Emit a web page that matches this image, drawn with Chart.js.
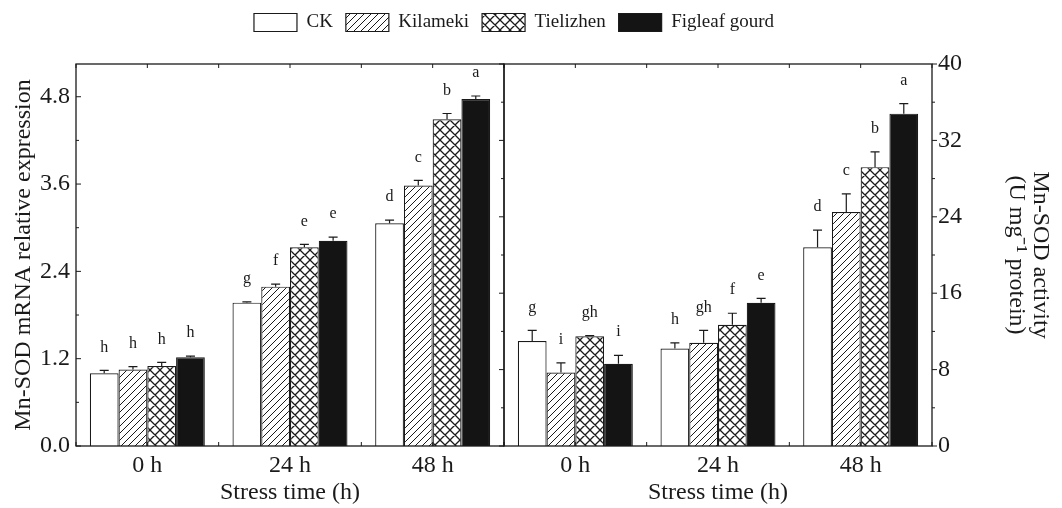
<!DOCTYPE html>
<html>
<head>
<meta charset="utf-8">
<script src="https://cdn.jsdelivr.net/npm/chart.js@4.4.1/dist/chart.umd.min.js"></script>
<style>
html, body { margin: 0; padding: 0; background: #fff; }
#wrap { position: relative; width: 1062px; height: 508px; }
canvas { position: absolute; left: 0; top: 0; }
</style>
</head>
<body>
<div id="wrap">
  <canvas id="exprChart" width="1028" height="508"></canvas>
  <canvas id="actChart" width="1062" height="508"></canvas>
</div>
<script>
const times = ['0 h', '24 h', '48 h'];
const cultivars = ['CK', 'Kilameki', 'Tielizhen', 'Figleaf gourd'];

// Mn-SOD mRNA relative expression (left panel)
const exprCK = [1.00, 1.97, 3.06];
const exprKil = [1.05, 2.19, 3.58];
const exprTie = [1.10, 2.73, 4.49];
const exprFig = [1.22, 2.82, 4.77];
const exprErrCK = [0.04, 0.01, 0.045];
const exprErrKil = [0.04, 0.035, 0.07];
const exprErrTie = [0.05, 0.04, 0.08];
const exprErrFig = [0.015, 0.05, 0.04];
const exprLetCK = ['h', 'g', 'd'];
const exprLetKil = ['h', 'f', 'c'];
const exprLetTie = ['h', 'e', 'b'];
const exprLetFig = ['h', 'e', 'a'];

// Mn-SOD activity, U mg-1 protein (right panel)
const actCK = [11.0, 10.2, 20.8];
const actKil = [7.7, 10.8, 24.5];
const actTie = [11.5, 12.7, 29.2];
const actFig = [8.6, 15.0, 34.8];
const actErrCK = [1.1, 0.6, 1.8];
const actErrKil = [1.0, 1.3, 1.9];
const actErrTie = [0.05, 1.2, 1.6];
const actErrFig = [0.9, 0.45, 1.05];
const actLetCK = ['g', 'h', 'd'];
const actLetKil = ['i', 'gh', 'c'];
const actLetTie = ['gh', 'f', 'b'];
const actLetFig = ['i', 'e', 'a'];

const exprTicks = [0, 1.2, 2.4, 3.6, 4.8];
const actTicks = [0, 8, 16, 24, 32, 40];

const ink = '#1a1a1a';
const serif = "'Liberation Serif', 'Times New Roman', serif";
Chart.defaults.font.family = serif;
Chart.defaults.color = ink;

function hatch(size, cross, lw) {
    const c = document.createElement('canvas');
    c.width = c.height = size;
    const g = c.getContext('2d');
    g.fillStyle = '#fff';
    g.fillRect(0, 0, size, size);
    g.strokeStyle = ink;
    g.lineWidth = lw;
    g.beginPath();
    for (const o of [-size, 0, size]) {
        g.moveTo(o, size); g.lineTo(o + size, 0);
        if (cross) { g.moveTo(o, 0); g.lineTo(o + size, size); }
    }
    g.stroke();
    return g.createPattern(c, 'repeat');
}

const fills = ['#ffffff', hatch(7, false, 1), hatch(10, true, 1.3), '#141414'];

function makeSets(values, errors, letters) {
    return values.map((v, i) => ({
        label: cultivars[i],
        data: v,
        errors: errors[i],
        letters: letters[i],
        backgroundColor: fills[i],
        borderColor: ink,
        borderWidth: 1.2,
        xAxisID: 'x',
        yAxisID: 'y'
    }));
}

// error bars, significance letters, frame and tick marks
const panelMarks = {
    id: 'panelMarks',
    afterDatasetsDraw(chart, args, opts) {
        const { ctx, chartArea: a } = chart;
        const ys = chart.scales.y;
        const xs = chart.scales.x;
        ctx.save();
        ctx.strokeStyle = ink;
        ctx.fillStyle = ink;
        ctx.lineWidth = 1.2;
        ctx.font = '16px ' + serif;
        ctx.textAlign = 'center';
        ctx.textBaseline = 'middle';
        chart.data.datasets.forEach((ds, i) => {
            chart.getDatasetMeta(i).data.forEach((bar, j) => {
                const top = ys.getPixelForValue(ds.data[j] + ds.errors[j]);
                ctx.beginPath();
                ctx.moveTo(bar.x, bar.y);
                ctx.lineTo(bar.x, top);
                ctx.moveTo(bar.x - 4.5, top);
                ctx.lineTo(bar.x + 4.5, top);
                ctx.stroke();
                ctx.fillText(ds.letters[j], bar.x, top - 23);
            });
        });

        ctx.lineWidth = 1.3;
        ctx.strokeRect(a.left, a.top, a.right - a.left, a.bottom - a.top);

        ctx.lineWidth = 1;
        ctx.beginPath();
        for (let k = -0.5; k <= times.length - 0.5; k += 0.5) {
            const px = xs.getPixelForValue(k);
            ctx.moveTo(px, a.top); ctx.lineTo(px, a.top + 4);
            ctx.moveTo(px, a.bottom); ctx.lineTo(px, a.bottom - 4);
        }
        for (let v = 0; v <= opts.max + 1e-9; v += opts.minor) {
            const py = ys.getPixelForValue(v);
            const major = Math.abs(v / opts.major - Math.round(v / opts.major)) < 1e-6;
            const len = major ? 5 : 3;
            opts.sides.forEach(s => {
                const x0 = a[s.edge];
                ctx.moveTo(x0, py);
                ctx.lineTo(x0 + s.dir * len, py);
            });
        }
        ctx.stroke();
        ctx.restore();
    }
};

const xAxis = {
    type: 'category',
    position: 'bottom',
    grid: { display: false, drawTicks: false },
    border: { display: false },
    ticks: { font: { size: 24 }, padding: 5, color: ink },
    title: { display: true, text: 'Stress time (h)', color: ink, font: { size: 24, lineHeight: 1 }, padding: { top: 0, bottom: 3 } },
    afterFit: s => { s.height = 62; }
};

function blank(type, position, fit) {
    return {
        type: type,
        position: position,
        grid: { display: false, drawTicks: false },
        border: { display: false },
        ticks: { display: false },
        afterFit: fit
    };
}

// Left panel: relative expression, with the legend
new Chart(document.getElementById('exprChart'), {
    type: 'bar',
    data: {
        labels: times,
        datasets: makeSets(
            [exprCK, exprKil, exprTie, exprFig],
            [exprErrCK, exprErrKil, exprErrTie, exprErrFig],
            [exprLetCK, exprLetKil, exprLetTie, exprLetFig])
    },
    options: {
        responsive: false,
        animation: false,
        datasets: { bar: { categoryPercentage: 0.806, barPercentage: 1 } },
        plugins: {
            legend: {
                position: 'top',
                labels: { boxWidth: 43, boxHeight: 18, padding: 13, color: ink, font: { size: 19 } }
            },
            tooltip: { enabled: false },
            panelMarks: { max: 4.8, major: 1.2, minor: 0.6, sides: [{ edge: 'left', dir: 1 }] }
        },
        scales: {
            x: xAxis,
            xTop: blank('category', 'top', s => { s.height = Math.max(0, 64 - s.chart.legend.height); }),
            y: {
                type: 'linear',
                position: 'left',
                min: 0,
                max: 5.25,
                grid: { display: false, drawTicks: false },
                border: { display: false },
                afterBuildTicks: s => { s.ticks = exprTicks.map(v => ({ value: v })); },
                ticks: { padding: 6, color: ink, font: { size: 24 }, callback: v => v.toFixed(1) },
                title: { display: true, text: 'Mn-SOD mRNA relative expression', color: ink, font: { size: 24, lineHeight: 1 }, padding: { top: 12, bottom: 0 } },
                afterFit: s => { s.width = 76; }
            },
            yPad: blank('linear', 'right', s => { s.width = 1028 - 504; })
        }
    },
    plugins: [panelMarks]
});

// Right panel: enzyme activity
new Chart(document.getElementById('actChart'), {
    type: 'bar',
    data: {
        labels: times,
        datasets: makeSets(
            [actCK, actKil, actTie, actFig],
            [actErrCK, actErrKil, actErrTie, actErrFig],
            [actLetCK, actLetKil, actLetTie, actLetFig])
    },
    options: {
        responsive: false,
        animation: false,
        datasets: { bar: { categoryPercentage: 0.806, barPercentage: 1 } },
        plugins: {
            legend: { display: false },
            tooltip: { enabled: false },
            panelMarks: { max: 40, major: 8, minor: 4, sides: [{ edge: 'left', dir: -1 }, { edge: 'right', dir: 1 }] }
        },
        scales: {
            x: xAxis,
            xTop: blank('category', 'top', s => { s.height = 64; }),
            yPad: blank('linear', 'left', s => { s.width = 504; }),
            y: {
                type: 'linear',
                position: 'right',
                min: 0,
                max: 40,
                grid: { display: false, drawTicks: false },
                border: { display: false },
                afterBuildTicks: s => { s.ticks = actTicks.map(v => ({ value: v })); },
                ticks: { padding: 6, color: ink, font: { size: 24 } },
                title: { display: true, text: ['Mn-SOD activity', '(U mg\u207B\u00B9 protein)'], color: ink, font: { size: 24, lineHeight: 1 }, padding: { top: 10, bottom: 0 } },
                afterFit: s => { s.width = 1062 - 932; }
            }
        }
    },
    plugins: [panelMarks]
});
</script>
</body>
</html>
